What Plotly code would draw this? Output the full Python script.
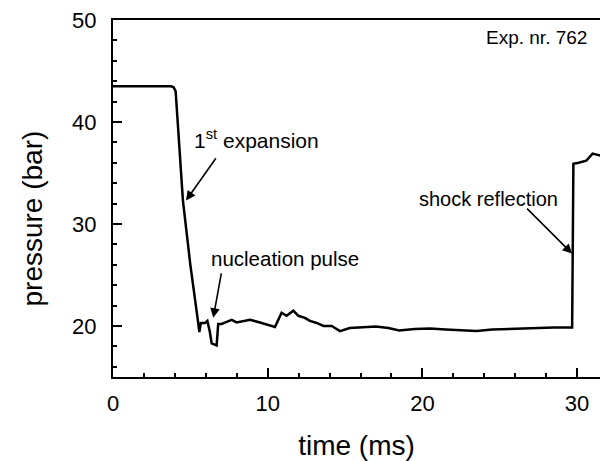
import plotly.graph_objects as go

# Data
time_ms = [0, 3.75, 3.92, 4.05, 4.52, 5.0, 5.49, 5.58, 5.68, 5.95, 6.1, 6.25, 6.38,
           6.7, 6.8, 7.02, 7.35, 7.67, 7.99, 8.4, 8.86, 9.5, 10.0, 10.47, 10.9, 11.22,
           11.66, 11.98, 12.4, 12.73, 13.17, 13.6, 14.14, 14.67, 15.3, 16.0, 17.0,
           17.8, 18.5, 19.5, 20.5, 21.5, 22.5, 23.5, 24.5, 25.5, 26.5, 27.5, 28.5,
           29.68, 29.72, 29.76, 30.1, 30.59, 31.0, 31.5]
pressure_bar = [43.5, 43.5, 43.4, 43.0, 32.3, 26.0, 20.5, 19.4, 20.3, 20.3, 20.5, 19.5,
                18.3, 18.1, 20.2, 20.2, 20.4, 20.6, 20.35, 20.5, 20.6, 20.35, 20.1, 19.9,
                21.3, 21.0, 21.5, 21.0, 20.8, 20.5, 20.3, 20.0, 20.0, 19.5, 19.8, 19.85,
                19.95, 19.8, 19.55, 19.7, 19.75, 19.65, 19.55, 19.5, 19.65, 19.7, 19.8,
                19.85, 19.85, 19.85, 27.0, 35.9, 36.0, 36.2, 36.9, 36.7]

x_ticks = [0, 10, 20, 30]
y_ticks = [20, 30, 40, 50]

font_family = "Liberation Sans, Arial, Helvetica, sans-serif"

fig = go.Figure()
fig.add_trace(go.Scatter(x=time_ms, y=pressure_bar, mode="lines",
                         line=dict(color="black", width=2.5), showlegend=False))

# Text labels
texts = [
    dict(x=5.1, y=38.3, text="1<sup>st</sup> expansion", xanchor="left", size=21),
    dict(x=6.2, y=26.6, text="nucleation pulse", xanchor="left", size=20.5),
    dict(x=19.65, y=32.5, text="shock reflection", xanchor="left", size=20),
    dict(x=30.75, y=48.3, text="Exp. nr. 762", xanchor="right", size=19),
]
for t in texts:
    fig.add_annotation(x=t["x"], y=t["y"], text=t["text"], xanchor=t["xanchor"],
                       yanchor="middle", showarrow=False,
                       font=dict(family=font_family, size=t["size"], color="black"))

# Arrows (tail -> tip), data coordinates
arrows = [
    ((6.72, 36.6), (4.72, 32.3)),
    ((7.02, 25.3), (6.48, 20.8)),
    ((26.67, 31.65), (29.68, 27.1)),
]
for (tx, ty), (hx, hy) in arrows:
    fig.add_annotation(x=hx, y=hy, ax=tx, ay=ty, xref="x", yref="y",
                       axref="x", ayref="y", text="", showarrow=True,
                       arrowhead=2, arrowsize=1.2, arrowwidth=1.6,
                       arrowcolor="black")

# Y-axis title placed as rotated text
fig.add_annotation(x=-0.165, y=0.443, xref="paper", yref="paper",
                   text="pressure (bar)", textangle=-90, showarrow=False,
                   xanchor="center", yanchor="middle",
                   font=dict(family=font_family, size=28, color="black"))

axis_common = dict(
    showline=True, linecolor="black", linewidth=2,
    ticks="inside", ticklen=9, tickwidth=2, tickcolor="black",
    showgrid=False, zeroline=False,
    tickfont=dict(family=font_family, size=22, color="black"),
)

fig.update_xaxes(range=[0, 31.48], tickvals=x_ticks, mirror=True,
                 ticklabelstandoff=6,
                 minor=dict(dtick=2, tick0=0, ticks="inside", ticklen=4,
                            tickwidth=2, tickcolor="black"),
                 title=dict(text="time (ms)", standoff=20,
                            font=dict(family=font_family, size=28, color="black")),
                 **axis_common)
fig.update_yaxes(range=[15, 50], tickvals=y_ticks, ticklabelstandoff=10,
                 minor=dict(dtick=2, tick0=0, ticks="inside", ticklen=4,
                            tickwidth=2, tickcolor="black"),
                 **axis_common)

fig.update_layout(width=600, height=461,
                  margin=dict(l=113, r=0, t=20, b=84),
                  plot_bgcolor="white", paper_bgcolor="white")

fig.write_html("out.html")
